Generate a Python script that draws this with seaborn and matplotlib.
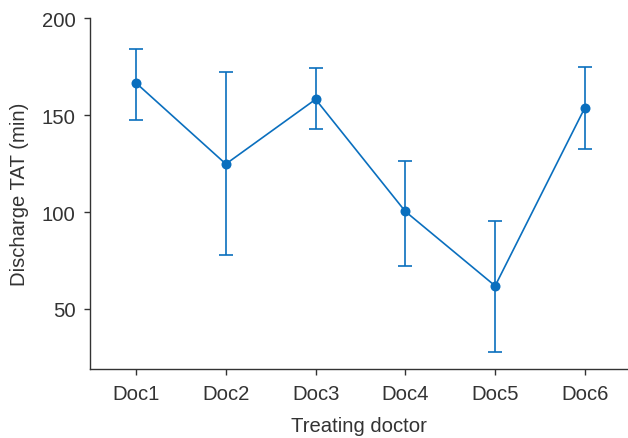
import matplotlib
matplotlib.use("Agg")
import matplotlib.pyplot as plt
import seaborn as sns
import pandas as pd

# values
doctors = ["Doc1", "Doc2", "Doc3", "Doc4", "Doc5", "Doc6"]
mean_tat = [166.6, 124.8, 158.2, 100.3, 61.9, 153.9]
upper_tat = [184.2, 172.4, 174.2, 126.4, 95.2, 174.7]
lower_tat = [147.7, 77.9, 142.9, 72.3, 28.0, 132.4]

df = pd.DataFrame({"doctor": doctors, "mean": mean_tat,
                   "upper": upper_tat, "lower": lower_tat})
df["pos"] = range(len(df))

sns.set_style("ticks")
plt.rcParams["font.family"] = ["Liberation Sans", "DejaVu Sans"]

color = "#0a6fbe"
txt = "#333333"
fs = 14.6

fig = plt.figure(figsize=(6.28, 4.39), dpi=100)
ax = fig.add_axes([0.1438, 0.1572, 0.8562, 0.7988])

err = [df["mean"] - df["lower"], df["upper"] - df["mean"]]
ax.errorbar(df["pos"], df["mean"], yerr=err, fmt="none", ecolor=color,
            elinewidth=1.2, capsize=4.7, capthick=1.2, zorder=2)
sns.lineplot(data=df, x="pos", y="mean", ax=ax, color=color, linewidth=1.2,
             marker="o", markersize=7.2, markeredgewidth=0, zorder=3)

ax.set_xlim(-0.51, 5.48)
ax.set_ylim(19, 200)
ax.set_xticks(df["pos"])
ax.set_xticklabels(doctors)
ax.set_yticks([50, 100, 150, 200])
ax.set_xlabel("Treating doctor", fontsize=fs, color=txt, labelpad=10)
ax.set_ylabel("Discharge TAT (min)", fontsize=fs, color=txt, labelpad=9)
ax.tick_params(labelsize=fs, labelcolor=txt, color=txt, length=4.5, width=1, pad=6)
sns.despine(ax=ax)
for s in ["left", "bottom"]:
    ax.spines[s].set_color(txt)
    ax.spines[s].set_linewidth(1)

fig.savefig("out.png", dpi=100)
